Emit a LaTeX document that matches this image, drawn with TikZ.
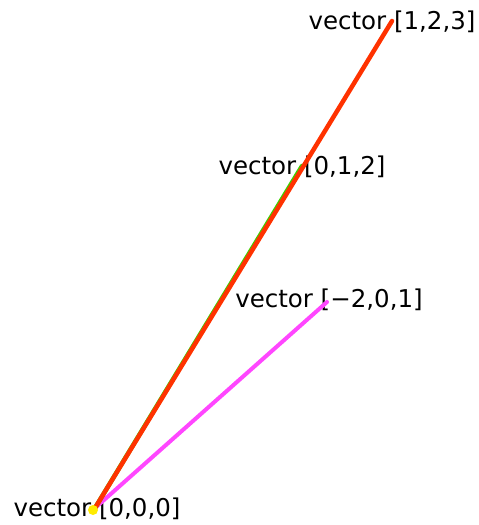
\documentclass[tikz,border=0pt]{standalone}
\usepackage{fontspec}
\setmainfont{DejaVu Sans}
\definecolor{vecred}{RGB}{255, 50, 0}
\definecolor{vecgreen}{RGB}{60, 210, 0}
\definecolor{vecpink}{RGB}{255, 70, 255}
\definecolor{vecyellow}{RGB}{255, 235, 0}
\usetikzlibrary{positioning}

\begin{document}
\begin{tikzpicture}[x=1pt,y=-1pt,
    vec/.style={line width=4.5pt,line cap=round},
    lbl/.style={font=\fontsize{24.5}{29}\selectfont,inner sep=0pt}]
    \useasboundingbox (0,0) rectangle (479,525);
    % tips of the vectors
    \coordinate (o) at (95,508);
    \coordinate (a) at (392,21);
    \coordinate (b) at (302,166);
    \coordinate (c) at (327,302);
    % labels sit on the tips
    \node[lbl] (la) at (392,22) {vector [1,2,3]};
    \node[lbl] (lb) at (302,167) {vector [0,1,2]};
    \node[lbl] (lc) at (329,300) {vector [−2,0,1]};
    \node[lbl] (lo) at (97,509) {vector [0,0,0]};
    % vectors
    \draw[vec,vecpink,line width=4pt] (o) -- (c);
    \draw[vec,vecgreen] (o) -- (b);
    \draw[vec,vecred] (o) -- (a);
    \fill[vecyellow] (93,510) circle (5);
\end{tikzpicture}
\end{document}
